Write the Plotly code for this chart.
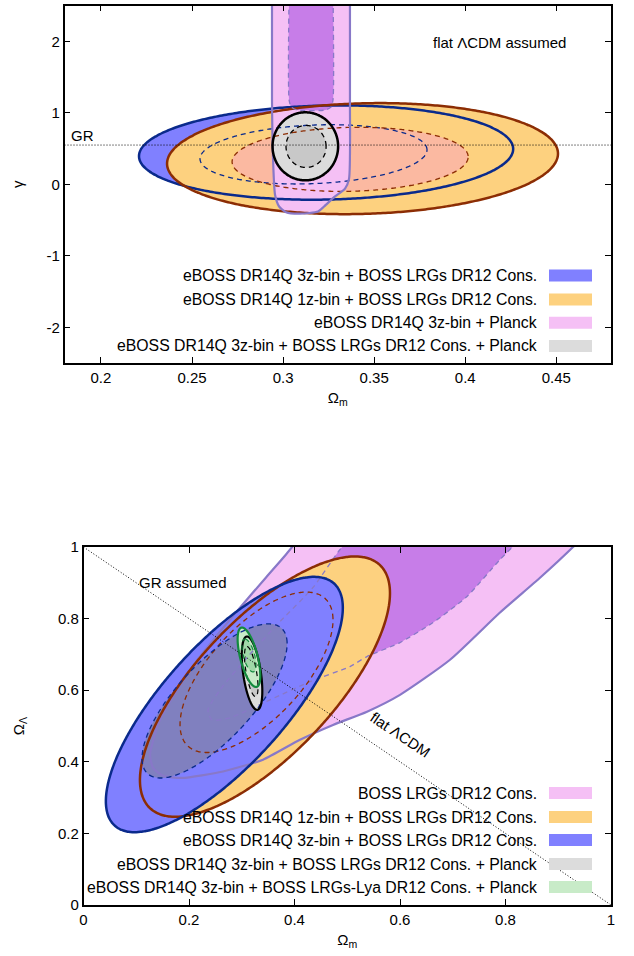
import numpy as np
import plotly.graph_objects as go

W, H = 634, 956

# ---------------- DATA ----------------
# Top panel (Omega_m, gamma). Ellipses: [cx, cy, ax, ay, bx, by] (conjugate semi-diameters)
top_blue_95 = [0.3236, 0.445, 0.1027, 0.05, 0.0, 0.658]
top_blue_68 = [0.3167, 0.42, 0.0623, 0.063, 0.0, 0.41]
top_orange_95 = [0.3436, 0.36, 0.1073, 0.07, 0.0, 0.774]
top_orange_68 = [0.3368, 0.35, 0.0648, 0.035, 0.0, 0.447]
top_gray_95 = [0.3122, 0.532, 0.018, 0.0, 0.0, 0.476]
top_gray_68 = [0.3126, 0.53, 0.011, 0.0, 0.0, 0.294]
# Planck band (polygon vertices)
top_pink_95_om = [0.2939, 0.2939, 0.2945, 0.2956, 0.2978, 0.3016, 0.3093, 0.3192, 0.3225, 0.328, 0.334, 0.3362, 0.3367, 0.3367]
top_pink_95_g = [2.7, 1.18, 0.34, -0.15, -0.31, -0.39, -0.41, -0.38, -0.31, -0.18, -0.06, 0.08, 1.18, 2.7]
top_purple_68_om = [0.3033, 0.3033, 0.3045, 0.3077, 0.3230, 0.3263, 0.3274, 0.3274]
top_purple_68_g = [2.7, 1.18, 1.08, 1.04, 1.04, 1.08, 1.18, 2.7]
gr_gamma = 0.55

top_xticks = [0.2, 0.25, 0.3, 0.35, 0.4, 0.45]
top_xtick_text = ["0.2", "0.25", "0.3", "0.35", "0.4", "0.45"]
top_yticks = [-2, -1, 0, 1, 2]
top_ytick_text = ["-2", "-1", "0", "1", "2"]

top_legend_labels = [
    "eBOSS DR14Q 3z-bin + BOSS LRGs DR12 Cons.",
    "eBOSS DR14Q 1z-bin + BOSS LRGs DR12 Cons.",
    "eBOSS DR14Q 3z-bin + Planck",
    "eBOSS DR14Q 3z-bin + BOSS LRGs DR12 Cons. + Planck",
]

# Bottom panel (Omega_m, Omega_Lambda)
bot_pink_95_om = [0.4218, 0.3839, 0.346, 0.2986, 0.2512, 0.2133, 0.1754, 0.1450, 0.1299, 0.1261, 0.1318, 0.1507,
                  0.1867, 0.2645, 0.3403, 0.4104, 0.473, 0.5375, 0.600, 0.6948, 0.7896, 0.8654, 0.928, 0.960]
bot_pink_95_ol = [1.049, 0.979, 0.915, 0.834, 0.750, 0.680, 0.596, 0.518, 0.448, 0.420, 0.383, 0.361,
                  0.355, 0.373, 0.406, 0.4615, 0.503, 0.540, 0.587, 0.685, 0.817, 0.914, 1.0, 1.049]
bot_purple_68_om = [0.5242, 0.4863, 0.4351, 0.3668, 0.3062, 0.2588, 0.236, 0.2436, 0.2777, 0.3536, 0.4294,
                    0.5052, 0.5374, 0.600, 0.6626, 0.7270, 0.7896, 0.818, 0.8464]
bot_purple_68_ol = [1.049, 0.993, 0.887, 0.783, 0.685, 0.601, 0.545, 0.517, 0.523, 0.573, 0.624,
                    0.666, 0.694, 0.733, 0.789, 0.862, 0.965, 1.007, 1.049]
bot_orange_95 = [0.344, 0.61, 0.237, 0.261, 0.0, 0.253]
bot_orange_68 = [0.328, 0.65, 0.145, 0.146, 0.0, 0.17]
bot_blue_95 = [0.267, 0.56, 0.2246, 0.27, 0.0, 0.233]
bot_blue_68 = [0.2485, 0.57, 0.1375, 0.16, 0.0, 0.144]
bot_gray_95 = [0.3195, 0.6475, -0.0095, 0.1025, 0.017, 0.0]
bot_gray_68 = [0.318, 0.652, -0.008, 0.07, 0.010, 0.0]
bot_green_95 = [0.3137, 0.692, -0.0132, 0.083, 0.017, 0.0]
bot_green_68 = [0.3137, 0.697, -0.0076, 0.046, 0.011, 0.0]
flat_om = [0.0, 1.0]
flat_ol = [1.0, 0.0]

bot_ticks = [0, 0.2, 0.4, 0.6, 0.8, 1.0]
bot_tick_text = ["0", "0.2", "0.4", "0.6", "0.8", "1"]

bot_legend_labels = [
    "BOSS LRGs DR12 Cons.",
    "eBOSS DR14Q 1z-bin + BOSS LRGs DR12 Cons.",
    "eBOSS DR14Q 3z-bin + BOSS LRGs DR12 Cons.",
    "eBOSS DR14Q 3z-bin + BOSS LRGs DR12 Cons. + Planck",
    "eBOSS DR14Q 3z-bin + BOSS LRGs-Lya DR12 Cons. + Planck",
]

# ---------------- STYLE ----------------
BLUE_F, BLUE_F2, BLUE_L = "#8080ff", "#8080bf", "#0a2a8c"
ORANGE_F, ORANGE_F2, ORANGE_L = "#fdd17f", "#fbb9a1", "#8c2d04"
PINK_F, PURPLE_F, LAV_L = "#f5c0f5", "#c77de8", "#8878c8"
GRAY_F, GRAY_F2, BLACK = "#dcdcdc", "#c8c8c8", "#000000"
GREEN_F, GREEN_F2, GREEN_L = "#c8ebc8", "#a0d8a8", "#138a3e"
FONT = "Liberation Sans"

t = np.linspace(0, 2 * np.pi, 241)


def ellipse(p):
    cx, cy, ax, ay, bx, by = p
    return cx + ax * np.cos(t) + bx * np.sin(t), cy + ay * np.cos(t) + by * np.sin(t)


fig = go.Figure()


def add_fill(x, y, color, xa, ya):
    fig.add_trace(go.Scatter(x=list(x), y=list(y), mode="lines", fill="toself", fillcolor=color,
                             line=dict(width=0, color=color, shape="spline", smoothing=0.6),
                             hoverinfo="skip", showlegend=False, xaxis=xa, yaxis=ya))


def add_line(x, y, color, width, dash, xa, ya, close=True):
    x, y = list(x), list(y)
    if close:
        x, y = x + [x[0]], y + [y[0]]
    fig.add_trace(go.Scatter(x=x, y=y, mode="lines",
                             line=dict(color=color, width=width, dash=dash, shape="spline", smoothing=0.6),
                             hoverinfo="skip", showlegend=False, xaxis=xa, yaxis=ya))


DASH = "5px,4px"

# ---- top panel ----
top_fills = [
    (ellipse(top_blue_95), BLUE_F), (ellipse(top_blue_68), BLUE_F2),
    (ellipse(top_orange_95), ORANGE_F), (ellipse(top_orange_68), ORANGE_F2),
    ((top_pink_95_om, top_pink_95_g), PINK_F), ((top_purple_68_om, top_purple_68_g), PURPLE_F),
    (ellipse(top_gray_95), GRAY_F), (ellipse(top_gray_68), GRAY_F2),
]
for (xx, yy), c in top_fills:
    add_fill(xx, yy, c, "x", "y")

top_lines = [
    (ellipse(top_blue_95), BLUE_L, 2.5, "solid", True),
    (ellipse(top_blue_68), BLUE_L, 1.3, DASH, True),
    (ellipse(top_orange_95), ORANGE_L, 2.5, "solid", True),
    (ellipse(top_orange_68), ORANGE_L, 1.3, DASH, True),
    ((top_pink_95_om, top_pink_95_g), LAV_L, 2.2, "solid", False),
    ((top_purple_68_om, top_purple_68_g), LAV_L, 1.3, DASH, False),
    (ellipse(top_gray_95), BLACK, 2.5, "solid", True),
    (ellipse(top_gray_68), BLACK, 1.3, DASH, True),
]
for (xx, yy), c, w, d, cl in top_lines:
    add_line(xx, yy, c, w, d, "x", "y", cl)

fig.add_trace(go.Scatter(x=[0.18, 0.48], y=[gr_gamma, gr_gamma], mode="lines",
                         line=dict(color=BLACK, width=1, dash="1px,2px"), hoverinfo="skip",
                         showlegend=False, xaxis="x", yaxis="y"))

# ---- bottom panel ----
bot_fills = [
    ((bot_pink_95_om, bot_pink_95_ol), PINK_F), ((bot_purple_68_om, bot_purple_68_ol), PURPLE_F),
    (ellipse(bot_orange_95), ORANGE_F), (ellipse(bot_orange_68), ORANGE_F2),
    (ellipse(bot_blue_95), BLUE_F), (ellipse(bot_blue_68), BLUE_F2),
    (ellipse(bot_gray_95), GRAY_F), (ellipse(bot_gray_68), GRAY_F2),
    (ellipse(bot_green_95), GREEN_F), (ellipse(bot_green_68), GREEN_F2),
]
for (xx, yy), c in bot_fills:
    add_fill(xx, yy, c, "x2", "y2")

bot_lines = [
    ((bot_pink_95_om, bot_pink_95_ol), LAV_L, 2.2, "solid", False),
    ((bot_purple_68_om, bot_purple_68_ol), LAV_L, 1.3, DASH, False),
    (ellipse(bot_orange_95), ORANGE_L, 2.5, "solid", True),
    (ellipse(bot_orange_68), ORANGE_L, 1.3, DASH, True),
    (ellipse(bot_blue_95), BLUE_L, 2.5, "solid", True),
    (ellipse(bot_blue_68), BLUE_L, 1.3, DASH, True),
    (ellipse(bot_gray_95), BLACK, 2.2, "solid", True),
    (ellipse(bot_gray_68), BLACK, 1.2, DASH, True),
    (ellipse(bot_green_95), GREEN_L, 2.2, "solid", True),
    (ellipse(bot_green_68), GREEN_L, 1.2, DASH, True),
]
for (xx, yy), c, w, d, cl in bot_lines:
    add_line(xx, yy, c, w, d, "x2", "y2", cl)

fig.add_trace(go.Scatter(x=flat_om, y=flat_ol, mode="lines",
                         line=dict(color=BLACK, width=1, dash="1px,2px"), hoverinfo="skip",
                         showlegend=False, xaxis="x2", yaxis="y2"))

# ---------------- LAYOUT ----------------
tickfont = dict(family=FONT, size=15, color="black")
axis_common = dict(showgrid=False, zeroline=False, ticks="inside", ticklen=6, tickwidth=1,
                   tickcolor="black", showline=True, linecolor="black", linewidth=1.5,
                   mirror="ticks", tickfont=tickfont, automargin=False)

fig.update_layout(
    width=W, height=H, margin=dict(l=0, r=0, t=0, b=0, autoexpand=False),
    paper_bgcolor="white", plot_bgcolor="white", showlegend=False,
    xaxis=dict(domain=[64.5 / W, 611 / W], range=[0.18, 0.48], anchor="y",
               tickvals=top_xticks, ticktext=top_xtick_text,
               title=dict(text="Ω<sub>m</sub>", font=dict(family=FONT, size=15, color="black"), standoff=8),
               **axis_common),
    yaxis=dict(domain=[1 - 363 / H, 1 - 5.7 / H], range=[-2.5, 2.5], anchor="x",
               tickvals=top_yticks, ticktext=top_ytick_text,
               title=dict(text="γ", font=dict(family=FONT, size=15, color="black"), standoff=19),
               **axis_common),
    xaxis2=dict(domain=[83.5 / W, 611 / W], range=[0, 1], anchor="y2",
                tickvals=bot_ticks, ticktext=bot_tick_text,
                title=dict(text="Ω<sub>m</sub>", font=dict(family=FONT, size=15, color="black"), standoff=8),
                **axis_common),
    yaxis2=dict(domain=[1 - 905 / H, 1 - 547 / H], range=[0, 1], anchor="x2",
                tickvals=bot_ticks, ticktext=bot_tick_text,
                title=dict(text="Ω<sub>Λ</sub>", font=dict(family=FONT, size=15, color="black"), standoff=30),
                **axis_common),
)

ann_font = dict(family=FONT, size=15, color="black")
fig.add_annotation(x=0.190, y=0.686, xref="x", yref="y", text="GR", showarrow=False, font=ann_font)
fig.add_annotation(x=0.4186, y=1.99, xref="x", yref="y", text="flat ΛCDM assumed", showarrow=False, font=ann_font)
fig.add_annotation(x=0.1886, y=0.9007, xref="x2", yref="y2", text="GR assumed", showarrow=False, font=ann_font)
fig.add_annotation(x=0.600, y=0.4755, xref="x2", yref="y2", text="flat ΛCDM", showarrow=False,
                   font=ann_font, textangle=34)

# manual legends (text right-aligned, swatch on the right)
top_legend_colors = [BLUE_F, ORANGE_F, PINK_F, GRAY_F]
top_rows = [275.5, 299.5, 322.7, 346]
bot_legend_colors = [PINK_F, ORANGE_F, BLUE_F, GRAY_F, GREEN_F]
bot_rows = [793, 817, 840, 864, 887]
for labels, colors, rows in [(top_legend_labels, top_legend_colors, top_rows),
                             (bot_legend_labels, bot_legend_colors, bot_rows)]:
    for lab, col, ry in zip(labels, colors, rows):
        fig.add_annotation(x=539 / W, y=1 - ry / H, xref="paper", yref="paper", text=lab,
                           showarrow=False, xanchor="right", yanchor="middle",
                           font=dict(family=FONT, size=15.8, color="black"))
        fig.add_shape(type="rect", xref="paper", yref="paper", x0=549 / W, x1=592 / W,
                      y0=1 - (ry + 6) / H, y1=1 - (ry - 6) / H, fillcolor=col, line=dict(width=0))

fig.write_html("out.html", config={"displayModeBar": False},
               post_script="document.body.style.margin='0px';document.body.style.padding='0px';")
